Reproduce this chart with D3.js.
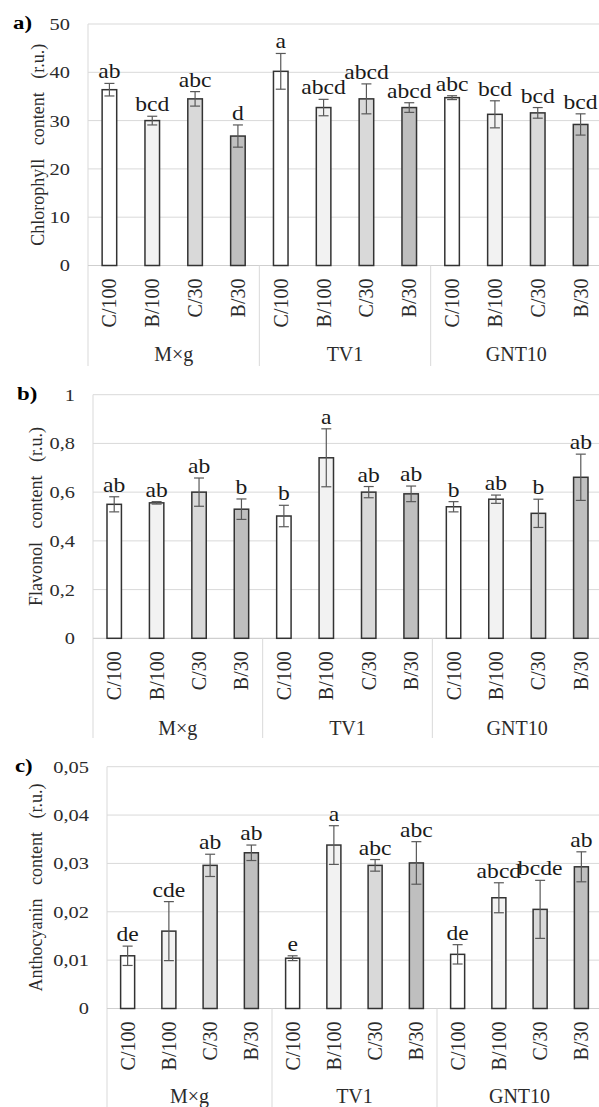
<!DOCTYPE html>
<html>
<head>
<meta charset="utf-8">
<script src="https://cdn.jsdelivr.net/npm/d3@7"></script>
<style>
  html, body { margin: 0; padding: 0; background: #fff; }
  svg { display: block; }
  svg text { font-family: "Liberation Serif", "Times New Roman", Times, serif; }
</style>
</head>
<body>
<script>
// categories
const groups = ["M×g", "TV1", "GNT10"];
const treatments = ["C/100", "B/100", "C/30", "B/30"];

// a) chlorophyll
const chlMean = [36.4, 30.0, 34.5, 26.8, 40.2, 32.7, 34.5, 32.7, 34.75, 31.3, 31.6, 29.2];
const chlErr = [1.3, 0.9, 1.5, 2.3, 3.7, 1.7, 3.1, 1.0, 0.4, 2.8, 1.1, 2.2];
const chlLetters = ["ab", "bcd", "abc", "d", "a", "abcd", "abcd", "abcd", "abc", "bcd", "bcd", "bcd"];
const chlTicks = [0, 10, 20, 30, 40, 50];

// b) flavonol
const flavMean = [0.55, 0.556, 0.60, 0.53, 0.502, 0.741, 0.60, 0.593, 0.54, 0.571, 0.513, 0.661];
const flavErr = [0.031, 0.005, 0.058, 0.042, 0.044, 0.119, 0.023, 0.032, 0.021, 0.017, 0.058, 0.095];
const flavLetters = ["ab", "ab", "ab", "b", "b", "a", "ab", "ab", "b", "ab", "b", "ab"];
const flavTicks = [0, 0.2, 0.4, 0.6, 0.8, 1];

// c) anthocyanin
const anthMean = [0.0109, 0.0160, 0.0296, 0.0322, 0.0104, 0.0338, 0.0296, 0.0301, 0.0112, 0.0229, 0.0205, 0.0293];
const anthErr = [0.0020, 0.0061, 0.0023, 0.0016, 0.0005, 0.0040, 0.0012, 0.0044, 0.0020, 0.0031, 0.0060, 0.0031];
const anthLetters = ["de", "cde", "ab", "ab", "e", "a", "abc", "abc", "de", "abcd", "bcde", "ab"];
const anthTicks = [0, 0.01, 0.02, 0.03, 0.04, 0.05];

const width = 599, height = 1107;
const fills = ["#ffffff", "#f2f2f2", "#d9d9d9", "#bfbfbf"];
const gridColor = "#d9d9d9";
const textColor = "#2b2b2b";

const svg = d3.select("body").append("svg")
  .attr("width", width)
  .attr("height", height);

function drawPanel(o) {
  const g = svg.append("g");
  const cats = groups.flatMap(gr => treatments.map(t => gr + "|" + t));

  const x = d3.scaleBand().domain(cats).range([o.left, o.right]).padding(0);
  const y = d3.scaleLinear().domain([0, o.max]).range([o.base, o.top]);
  const bw = x.bandwidth() * 0.34;
  const fmt = d => d === 0 ? "0" : d3.format(o.fmt)(d).replace(".", ",");

  // gridlines
  g.append("g").selectAll("line")
    .data(o.ticks.slice(1))
    .join("line")
    .attr("x1", o.left).attr("x2", width)
    .attr("y1", d => y(d)).attr("y2", d => y(d))
    .attr("stroke", gridColor).attr("stroke-width", 1);

  // left border of plot
  g.append("line")
    .attr("x1", o.left).attr("x2", o.left)
    .attr("y1", y(o.max)).attr("y2", o.sepBottom)
    .attr("stroke", gridColor);

  // baseline
  g.append("line")
    .attr("x1", o.left).attr("x2", width)
    .attr("y1", y(0)).attr("y2", y(0))
    .attr("stroke", "#cfcfcf").attr("stroke-width", 1.2);

  // group separators
  g.append("g").selectAll("line")
    .data(groups.slice(1))
    .join("line")
    .attr("x1", d => x(d + "|" + treatments[0])).attr("x2", d => x(d + "|" + treatments[0]))
    .attr("y1", y(0)).attr("y2", o.sepBottom)
    .attr("stroke", gridColor);

  // y tick labels
  g.append("g").selectAll("text")
    .data(o.ticks)
    .join("text")
    .attr("transform", d => `translate(${o.left - 18},${y(d)}) scale(1.2,1)`)
    .attr("dy", "0.35em")
    .attr("text-anchor", "end")
    .attr("font-size", 17)
    .attr("fill", textColor)
    .text(fmt);

  // bars
  g.append("g").selectAll("rect")
    .data(o.mean)
    .join("rect")
    .attr("x", (d, i) => x(cats[i]) + x.bandwidth() / 2 - bw / 2)
    .attr("y", d => y(d))
    .attr("width", bw)
    .attr("height", d => y(0) - y(d))
    .attr("fill", (d, i) => fills[i % 4])
    .attr("stroke", "#333")
    .attr("stroke-width", 1.5);

  // error bars
  const eb = g.append("g").attr("stroke", "#595959").attr("stroke-width", 1.2);
  o.mean.forEach((m, i) => {
    const cx = x(cats[i]) + x.bandwidth() / 2;
    const lo = y(m - o.err[i]), hi = y(m + o.err[i]);
    eb.append("line").attr("x1", cx).attr("x2", cx).attr("y1", lo).attr("y2", hi);
    eb.append("line").attr("x1", cx - 5).attr("x2", cx + 5).attr("y1", lo).attr("y2", lo);
    eb.append("line").attr("x1", cx - 5).attr("x2", cx + 5).attr("y1", hi).attr("y2", hi);
  });

  // significance letters
  g.append("g").selectAll("text")
    .data(o.letters)
    .join("text")
    .attr("transform", (d, i) =>
      `translate(${x(cats[i]) + x.bandwidth() / 2},${y(o.mean[i] + o.err[i]) - 5}) scale(1.18,1)`)
    .attr("text-anchor", "middle")
    .attr("font-size", 20)
    .attr("fill", "#1a1a1a")
    .text(d => d);

  // category labels (rotated)
  g.append("g").selectAll("text")
    .data(cats)
    .join("text")
    .attr("transform", d => `translate(${x(d) + x.bandwidth() / 2},${y(0) + 13}) rotate(-90)`)
    .attr("text-anchor", "end")
    .attr("dy", "0.35em")
    .attr("font-size", 20)
    .attr("fill", textColor)
    .text(d => d.split("|")[1]);

  // group labels
  g.append("g").selectAll("text")
    .data(groups)
    .join("text")
    .attr("x", d => x(d + "|" + treatments[0]) + 2 * x.bandwidth())
    .attr("y", o.groupY)
    .attr("text-anchor", "middle")
    .attr("font-size", 20)
    .attr("fill", textColor)
    .text(d => d);

  // y axis title
  g.append("text")
    .attr("transform", `translate(${o.titleX},${(o.top + o.base) / 2}) rotate(-90)`)
    .attr("text-anchor", "middle")
    .attr("dy", "0.35em")
    .attr("font-size", 18)
    .attr("word-spacing", 9)
    .attr("fill", textColor)
    .text(o.title);

  // panel letter
  g.append("text")
    .attr("transform", `translate(${o.panelX},${o.top + 5}) scale(1.2,1)`)
    .attr("font-size", 19)
    .attr("font-weight", "bold")
    .attr("fill", "#000")
    .text(o.panel);
}

drawPanel({
  panel: "a)", panelX: 13, title: "Chlorophyll content (r.u.)", titleX: 38,
  mean: chlMean, err: chlErr, letters: chlLetters, ticks: chlTicks, max: 50, fmt: "d",
  left: 88, right: 602, top: 24, base: 265.5, sepBottom: 366, groupY: 361
});

drawPanel({
  panel: "b)", panelX: 17, title: "Flavonol content (r.u.)", titleX: 36,
  mean: flavMean, err: flavErr, letters: flavLetters, ticks: flavTicks, max: 1, fmt: "~g",
  left: 93, right: 602, top: 394.7, base: 638.3, sepBottom: 738, groupY: 734.5
});

drawPanel({
  panel: "c)", panelX: 15, title: "Anthocyanin content (r.u.)", titleX: 36,
  mean: anthMean, err: anthErr, letters: anthLetters, ticks: anthTicks, max: 0.05, fmt: ".2f",
  left: 107, right: 602, top: 766.7, base: 1008.5, sepBottom: 1107, groupY: 1103
});
</script>
</body>
</html>
